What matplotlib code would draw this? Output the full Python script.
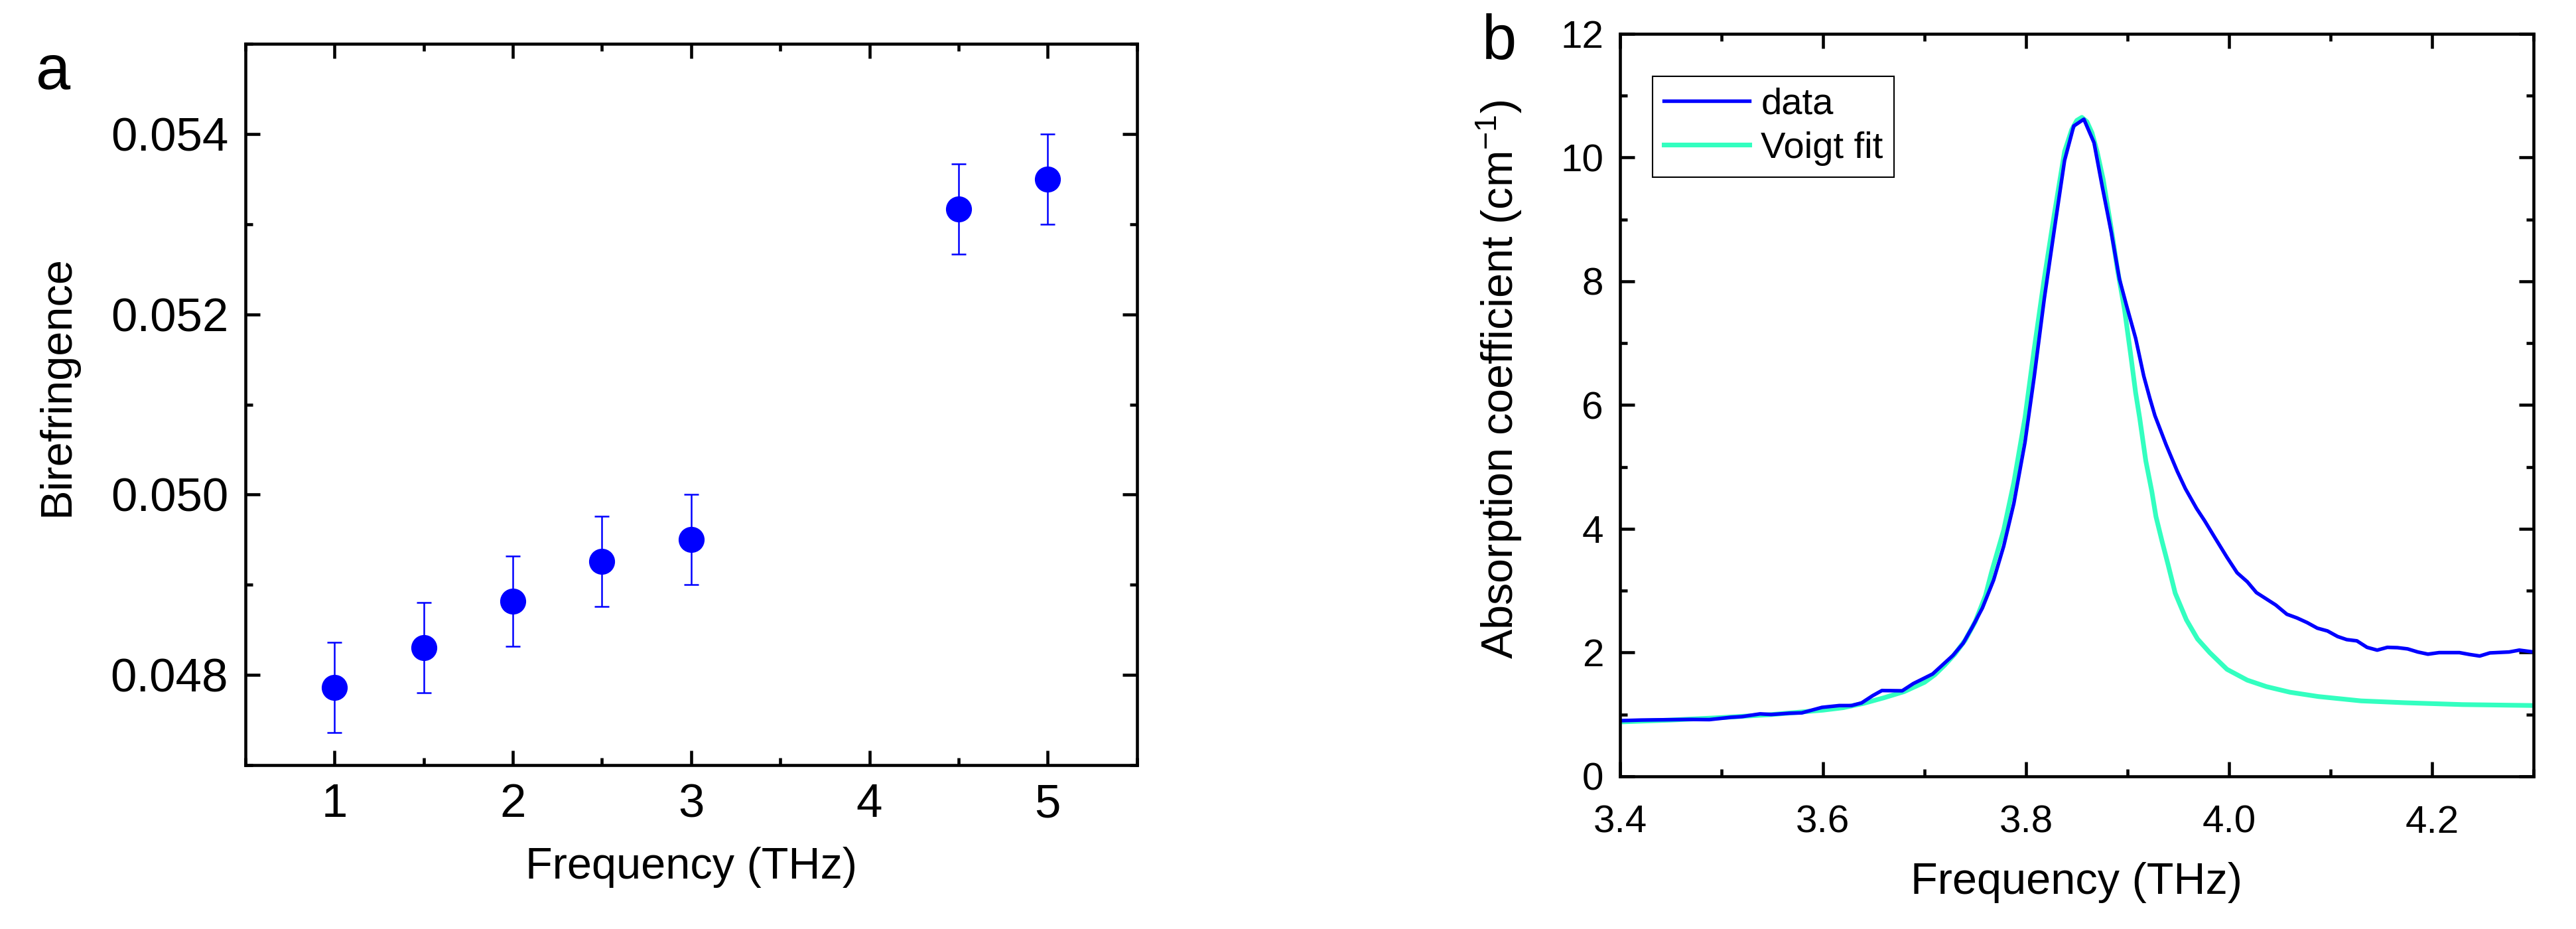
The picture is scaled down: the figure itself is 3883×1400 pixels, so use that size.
import matplotlib
matplotlib.use("Agg")
import matplotlib.pyplot as plt
from matplotlib.ticker import MultipleLocator, FormatStrFormatter

plt.rcParams["font.family"] = ["Liberation Sans", "DejaVu Sans"]

# panel a: birefringence vs frequency
biref_freq = [1.0, 1.5, 2.0, 2.5, 3.0, 4.5, 5.0]
biref_val = [0.04786, 0.04830, 0.04882, 0.04926, 0.04950, 0.05317, 0.05350]
biref_err = [0.0005, 0.0005, 0.0005, 0.0005, 0.0005, 0.0005, 0.0005]

# panel b: absorption coefficient, measured
data_freq = [3.400, 3.421, 3.445, 3.468, 3.488, 3.509, 3.520, 3.538, 3.549, 3.567,
             3.579, 3.599, 3.616, 3.628, 3.638, 3.649, 3.658, 3.678, 3.689, 3.698,
             3.708, 3.718, 3.728, 3.738, 3.747, 3.757, 3.768, 3.778, 3.788, 3.799,
             3.808, 3.818, 3.828, 3.838, 3.847, 3.857, 3.867, 3.875, 3.884, 3.892,
             3.899, 3.908, 3.916, 3.922, 3.927, 3.938, 3.949, 3.957, 3.968, 3.976,
             3.986, 3.998, 4.008, 4.018, 4.027, 4.046, 4.057, 4.067, 4.077, 4.087,
             4.097, 4.107, 4.116, 4.126, 4.136, 4.146, 4.156, 4.166, 4.176, 4.186,
             4.196, 4.207, 4.227, 4.237, 4.247, 4.257, 4.276, 4.286, 4.300]
data_alpha = [0.90, 0.91, 0.915, 0.92, 0.917, 0.954, 0.965, 1.01, 1.00, 1.02,
              1.026, 1.115, 1.144, 1.144, 1.187, 1.305, 1.387, 1.383, 1.50, 1.573,
              1.655, 1.805, 1.955, 2.15, 2.41, 2.72, 3.17, 3.72, 4.41, 5.40,
              6.45, 7.72, 8.85, 9.955, 10.51, 10.62, 10.24, 9.54, 8.79, 8.04,
              7.61, 7.08, 6.47, 6.11, 5.83, 5.36, 4.93, 4.65, 4.33, 4.13,
              3.86, 3.54, 3.29, 3.145, 2.97, 2.77, 2.62, 2.56, 2.485, 2.395,
              2.35, 2.26, 2.21, 2.19, 2.085, 2.04, 2.085, 2.08, 2.06, 2.01,
              1.975, 2.0, 2.0, 1.97, 1.945, 1.995, 2.01, 2.04, 2.01]

# panel b: Voigt fit
fit_freq = [3.40, 3.45, 3.50, 3.55, 3.60, 3.62, 3.64, 3.66, 3.68, 3.70,
            3.71, 3.72, 3.73, 3.74, 3.75, 3.76, 3.766, 3.778, 3.788, 3.799,
            3.808, 3.818, 3.828, 3.838, 3.845, 3.850, 3.855, 3.860, 3.865, 3.870,
            3.876, 3.884, 3.890, 3.897, 3.903, 3.908, 3.912, 3.918, 3.924, 3.928,
            3.934, 3.940, 3.947, 3.958, 3.969, 3.981, 3.998, 4.018, 4.037, 4.060,
            4.088, 4.130, 4.173, 4.230, 4.300]
fit_alpha = [0.88, 0.91, 0.95, 1.00, 1.07, 1.11, 1.18, 1.27, 1.37, 1.52,
             1.64, 1.80, 1.98, 2.20, 2.50, 2.92, 3.30, 3.98, 4.75, 5.80,
             6.90, 8.05, 9.10, 10.10, 10.45, 10.60, 10.65, 10.58, 10.40, 10.10,
             9.65, 8.85, 8.20, 7.55, 6.83, 6.20, 5.79, 5.10, 4.60, 4.20,
             3.80, 3.42, 2.96, 2.53, 2.22, 2.00, 1.73, 1.555, 1.45, 1.36,
             1.29, 1.22, 1.19, 1.16, 1.145]

BLUE = "#0000FF"
AQUA = "#33FFC0"


def style_axes(ax, label_size, pad_x, pad_y):
    for sp in ax.spines.values():
        sp.set_linewidth(1.1)
    ax.tick_params(which="both", direction="in", top=True, right=True,
                   width=1.1, labelsize=label_size)
    ax.tick_params(which="major", length=5.2)
    ax.tick_params(which="minor", length=2.7)
    ax.tick_params(axis="x", which="both", pad=pad_x)
    ax.tick_params(axis="y", which="both", pad=pad_y)


fig = plt.figure(figsize=(3883 / 300, 1400 / 300), dpi=300)

# ---- panel a ----
ax1 = fig.add_axes([0.0953, 0.1764, 0.3460, 0.7764])
ax1.errorbar(biref_freq, biref_val, yerr=biref_err, fmt="o", color=BLUE,
             markersize=8.4, ecolor=BLUE, elinewidth=0.6, capsize=2.6,
             capthick=0.6)
ax1.set_xlim(0.5, 5.5)
ax1.set_ylim(0.047, 0.055)
ax1.xaxis.set_major_locator(MultipleLocator(1))
ax1.xaxis.set_minor_locator(MultipleLocator(0.5))
ax1.yaxis.set_major_locator(MultipleLocator(0.002))
ax1.yaxis.set_minor_locator(MultipleLocator(0.001))
ax1.yaxis.set_major_formatter(FormatStrFormatter("%.3f"))
style_axes(ax1, 17, 6.5, 6.2)
ax1.set_xlabel("Frequency (THz)", fontsize=16)
ax1.set_ylabel("Birefringence", fontsize=16)
ax1.xaxis.set_label_coords(0.5, -0.113)
ax1.yaxis.set_label_coords(-0.188, 0.526)

# ---- panel b ----
ax2 = fig.add_axes([0.6289, 0.1643, 0.3546, 0.7993])
fit_line, = ax2.plot(fit_freq, fit_alpha, color=AQUA, lw=1.7, label="Voigt fit")
data_line, = ax2.plot(data_freq, data_alpha, color=BLUE, lw=1.3, label="data")
ax2.set_xlim(3.4, 4.3)
ax2.set_ylim(0, 12)
ax2.xaxis.set_major_locator(MultipleLocator(0.2))
ax2.xaxis.set_minor_locator(MultipleLocator(0.1))
ax2.xaxis.set_major_formatter(FormatStrFormatter("%.1f"))
ax2.yaxis.set_major_locator(MultipleLocator(2))
ax2.yaxis.set_minor_locator(MultipleLocator(1))
style_axes(ax2, 14, 10.3, 6.0)
ax2.set_xlabel("Frequency (THz)", fontsize=16)
ax2.set_ylabel(r"Absorption coefficient (cm$\mathregular{^{-1}}$)", fontsize=16)
ax2.xaxis.set_label_coords(0.5, -0.115)
ax2.yaxis.set_label_coords(-0.105, 0.534)

leg = ax2.legend([data_line, fit_line], ["data", "Voigt fit"],
                 loc="upper left", bbox_to_anchor=(0.0356, 0.9428),
                 borderaxespad=0, fontsize=13.5, handlelength=2.3,
                 handletextpad=0.3, labelspacing=0.25, borderpad=0.3,
                 fancybox=False, framealpha=1, edgecolor="black")
leg.get_frame().set_linewidth(0.5)

# panel letters
fig.text(0.0139, 0.904, "a", fontsize=22.5, ha="left", va="baseline")
fig.text(0.5753, 0.9364, "b", fontsize=22.5, ha="left", va="baseline")

fig.savefig("out.png", dpi=300)
